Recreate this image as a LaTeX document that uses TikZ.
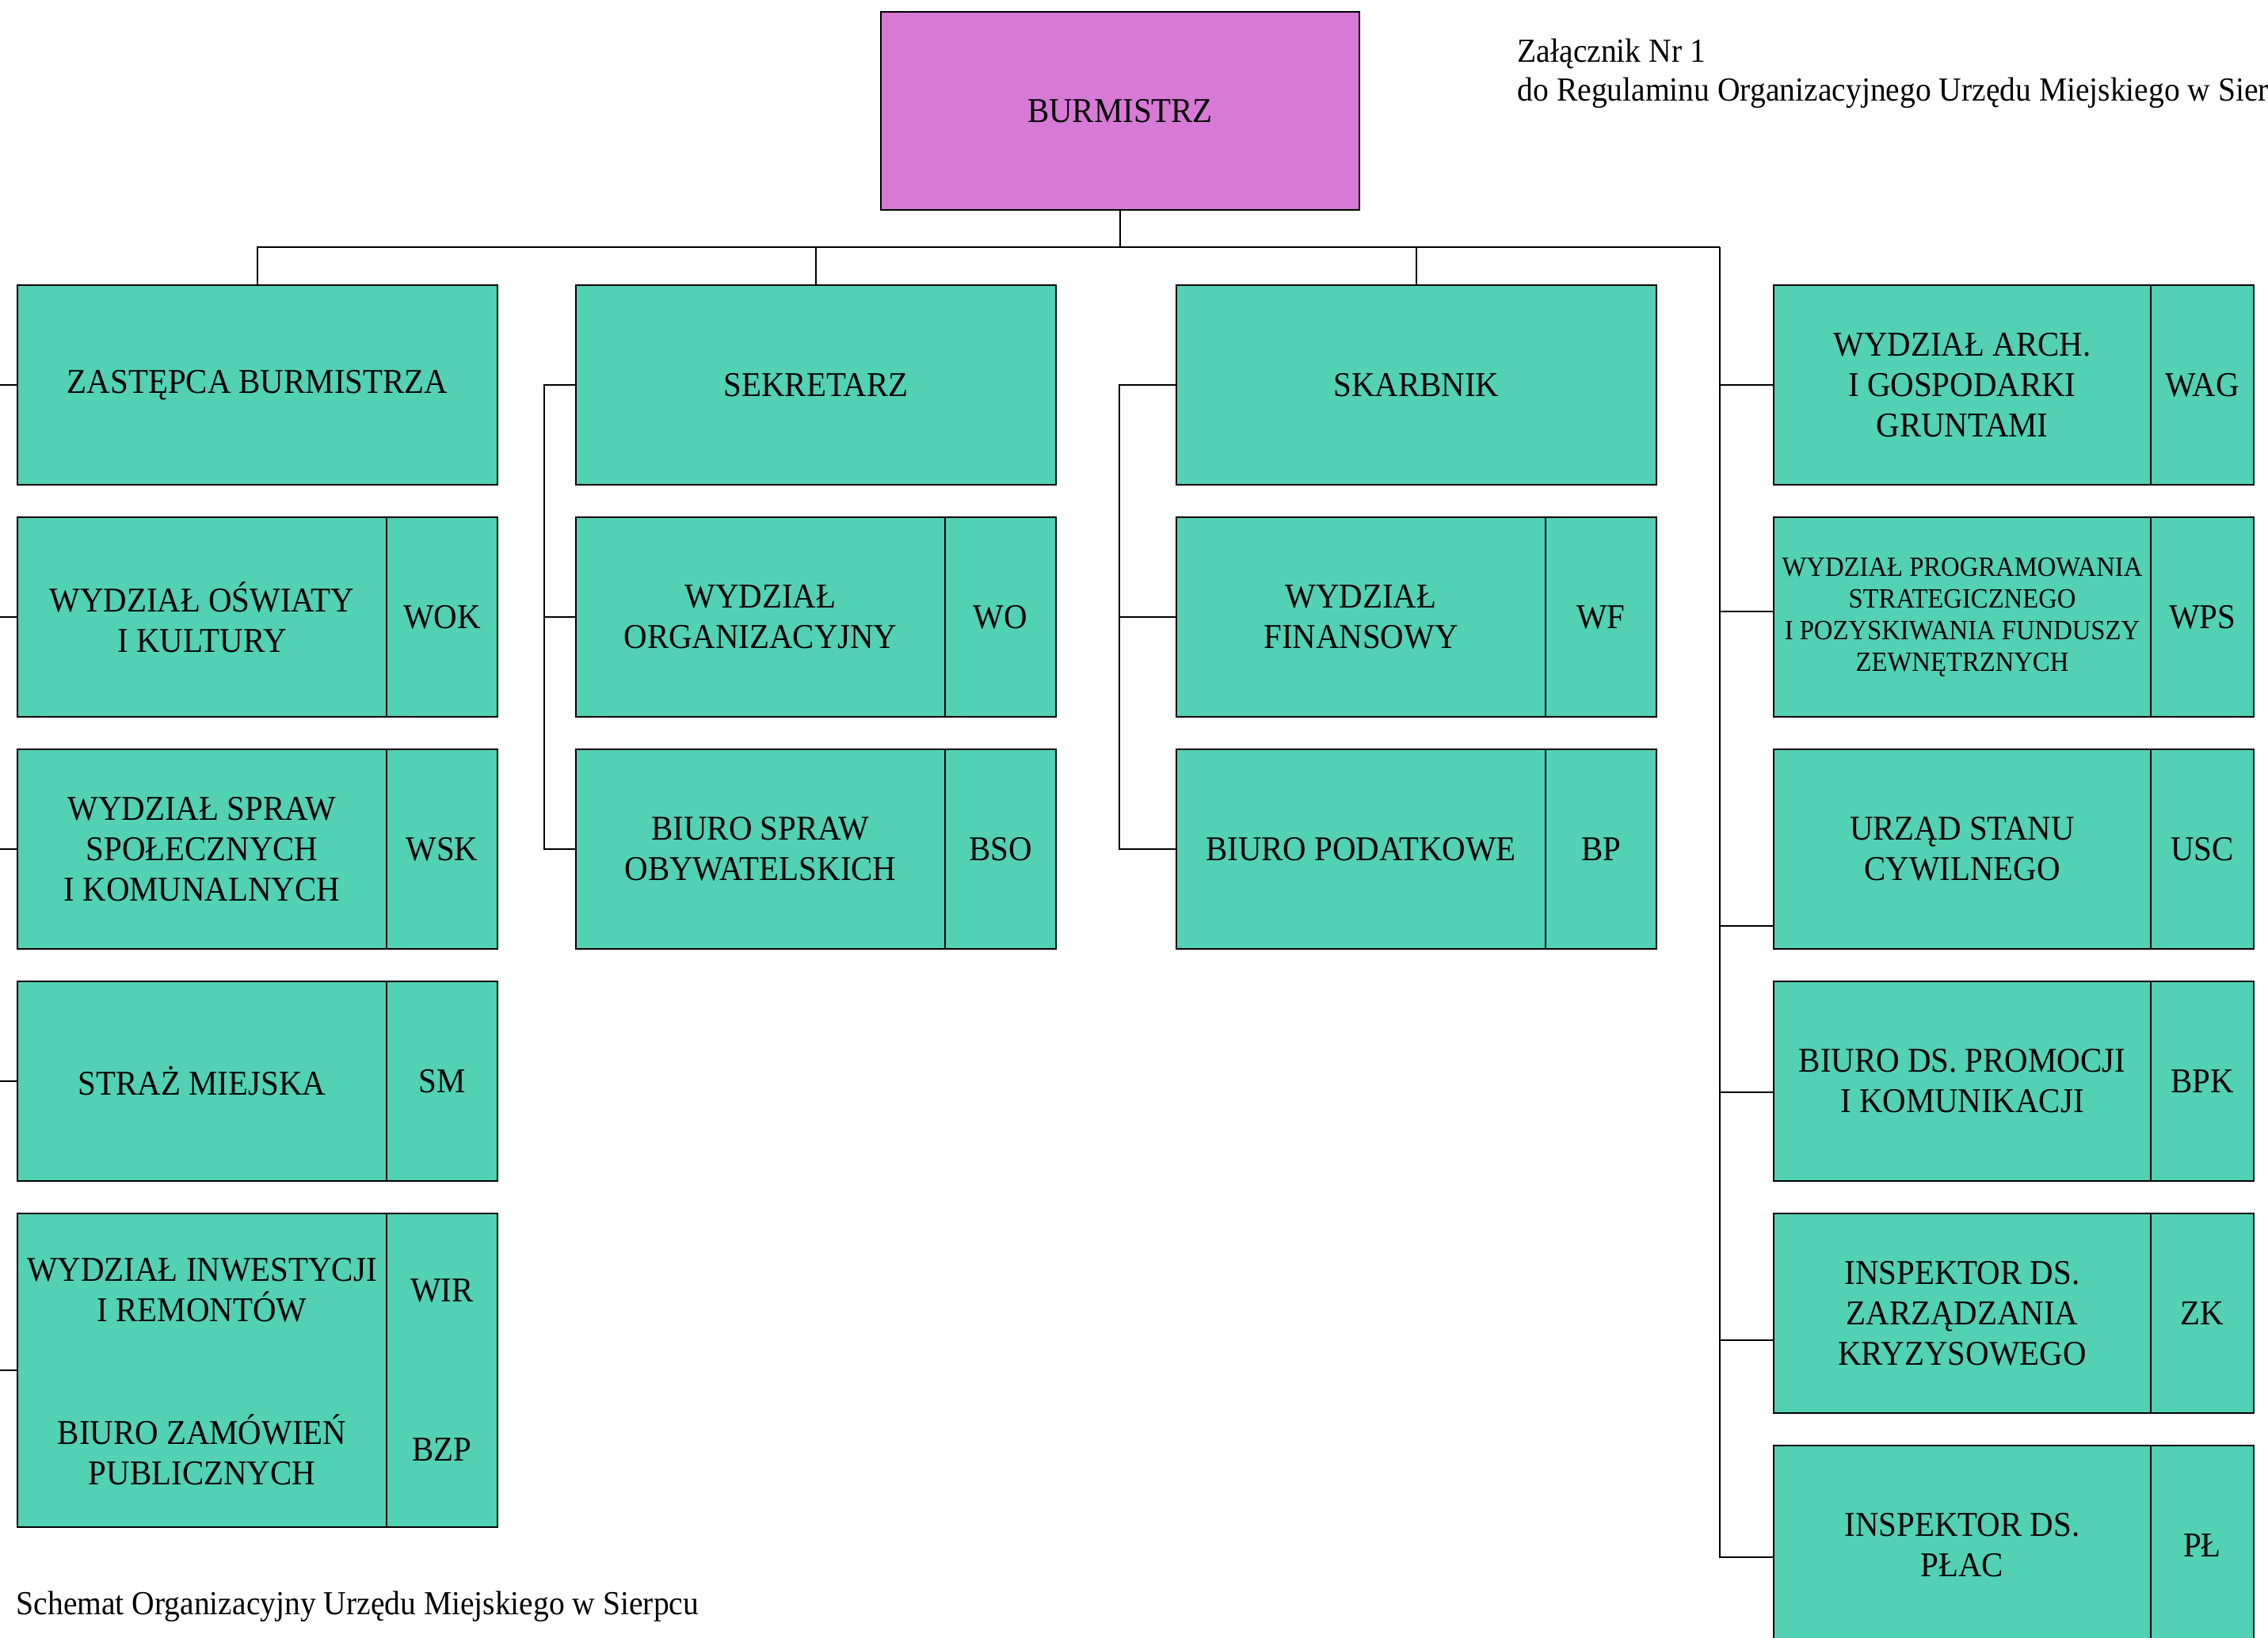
\documentclass[tikz,border=0pt]{standalone}
\usepackage{fontspec}
\setmainfont{Liberation Serif}[FakeStretch=0.93]
\usepackage{tikz}
\usetikzlibrary{positioning,calc}
\usepackage{xcolor}
\definecolor{unitgreen}{RGB}{82,209,180}
\definecolor{headpink}{RGB}{215,122,214}
\tikzset{
  unitbox/.style={draw, line width=0.8pt, fill=unitgreen, minimum width=4.66cm, minimum height=2.52cm, inner sep=1pt, outer sep=0pt, align=center, font=\fontsize{12.5}{14.5}\selectfont},
  widebox/.style={minimum width=6.06cm},
  headbox/.style={fill=headpink, minimum width=6.04cm, minimum height=2.50cm},
  abbrbox/.style={unitbox, minimum width=1.40cm},
  tallbox/.style={minimum height=3.96cm},
  rcol/.style={minimum width=4.76cm},
  rabbr/.style={minimum width=1.30cm},
  boxtext/.style={align=center, inner sep=0pt, font=\fontsize{12.5}{14.5}\selectfont},
  capt/.style={anchor=base west, inner sep=0pt, font=\fontsize{12.1}{14}\selectfont},
  link/.style={line width=0.8pt}
}
\begin{document}
\begin{tikzpicture}
\useasboundingbox (0,0) rectangle (28.63,-20.68);
\clip (0,0) rectangle (28.63,-20.68);
\node [unitbox, headbox] (burm) at (14.14,-1.40) {BURMISTRZ};
\node [capt] (zal) at (19.15,-0.79) {Załącznik Nr 1};
\node [capt] (zal2) at (19.15,-1.28) {do Regulaminu Organizacyjnego Urzędu Miejskiego w Sierpcu};
\node [capt] (schemat) at (0.20,-20.38) {Schemat Organizacyjny Urzędu Miejskiego w Sierpcu};

\node [unitbox, widebox, anchor=north west] (zast) at (0.22,-3.60) {ZASTĘPCA BURMISTRZA};
\node [unitbox, below=0.41cm of zast.south west, anchor=north west] (wok) {WYDZIAŁ OŚWIATY\\I KULTURY};
\node [abbrbox, right=0pt of wok] (wok-k) {WOK};
\node [unitbox, below=0.41cm of wok.south west, anchor=north west] (wsk) {WYDZIAŁ SPRAW\\SPOŁECZNYCH\\I KOMUNALNYCH};
\node [abbrbox, right=0pt of wsk] (wsk-k) {WSK};
\node [unitbox, below=0.41cm of wsk.south west, anchor=north west] (sm) {STRAŻ MIEJSKA};
\node [abbrbox, right=0pt of sm] (sm-k) {SM};
\node [unitbox, tallbox, below=0.41cm of sm.south west, anchor=north west] (wir) {};
\node [abbrbox, tallbox, right=0pt of wir] (wir-k) {};
\node [boxtext] (wir-t) at ($(wir.north)+(0,-0.97)$) {WYDZIAŁ INWESTYCJI\\I REMONTÓW};
\node [boxtext] (bzp-t) at ($(wir.north)+(0,-2.98)$) {BIURO ZAMÓWIEŃ\\PUBLICZNYCH};
\node [boxtext] (wir-a) at ($(wir-k.north)+(0,-0.97)$) {WIR};
\node [boxtext] (bzp-a) at ($(wir-k.north)+(0,-2.98)$) {BZP};

\node [unitbox, widebox, anchor=north west] (sekr) at (7.27,-3.60) {SEKRETARZ};
\node [unitbox, below=0.41cm of sekr.south west, anchor=north west] (wo) {WYDZIAŁ\\ORGANIZACYJNY};
\node [abbrbox, right=0pt of wo] (wo-k) {WO};
\node [unitbox, below=0.41cm of wo.south west, anchor=north west] (bso) {BIURO SPRAW\\OBYWATELSKICH};
\node [abbrbox, right=0pt of bso] (bso-k) {BSO};

\node [unitbox, widebox, anchor=north west] (skarb) at (14.85,-3.60) {SKARBNIK};
\node [unitbox, below=0.41cm of skarb.south west, anchor=north west] (wf) {WYDZIAŁ\\FINANSOWY};
\node [abbrbox, right=0pt of wf] (wf-k) {WF};
\node [unitbox, below=0.41cm of wf.south west, anchor=north west] (bp) {BIURO PODATKOWE};
\node [abbrbox, right=0pt of bp] (bp-k) {BP};

\node [unitbox, rcol, anchor=north west] (wag) at (22.39,-3.60) {WYDZIAŁ ARCH.\\I GOSPODARKI\\GRUNTAMI};
\node [abbrbox, rabbr, right=0pt of wag] (wag-k) {WAG};
\node [unitbox, rcol, below=0.41cm of wag.south west, anchor=north west, font=\fontsize{10}{11.4}\selectfont] (wps) {WYDZIAŁ PROGRAMOWANIA\\STRATEGICZNEGO\\I POZYSKIWANIA FUNDUSZY\\ZEWNĘTRZNYCH};
\node [abbrbox, rabbr, right=0pt of wps] (wps-k) {WPS};
\node [unitbox, rcol, below=0.41cm of wps.south west, anchor=north west] (usc) {URZĄD STANU\\CYWILNEGO};
\node [abbrbox, rabbr, right=0pt of usc] (usc-k) {USC};
\node [unitbox, rcol, below=0.41cm of usc.south west, anchor=north west] (bpk) {BIURO DS. PROMOCJI\\I KOMUNIKACJI};
\node [abbrbox, rabbr, right=0pt of bpk] (bpk-k) {BPK};
\node [unitbox, rcol, below=0.41cm of bpk.south west, anchor=north west] (zk) {INSPEKTOR DS.\\ZARZĄDZANIA\\KRYZYSOWEGO};
\node [abbrbox, rabbr, right=0pt of zk] (zk-k) {ZK};
\node [unitbox, rcol, below=0.41cm of zk.south west, anchor=north west] (pl) {INSPEKTOR DS.\\PŁAC};
\node [abbrbox, rabbr, right=0pt of pl] (pl-k) {PŁ};

\coordinate (rtop) at (21.71,-3.12);
\draw [link] (burm.south) -- (burm.south |- rtop);
\draw [link] (zast.north) |- (rtop);
\draw [link] (sekr.north) -- (sekr.north |- rtop);
\draw [link] (skarb.north) -- (skarb.north |- rtop);

\foreach \n in {zast,wok,wsk,sm,wir}
  \draw [link] (\n.west) -- ++(-0.5,0);

\coordinate (sbus) at ($(sekr.west)+(-0.40,0)$);
\draw [link] (sekr.west) -- (sbus) |- (bso.west);
\draw [link] (wo.west) -- (wo.west -| sbus);

\coordinate (fbus) at ($(skarb.west)+(-0.72,0)$);
\draw [link] (skarb.west) -- (fbus) |- (bp.west);
\draw [link] (wf.west) -- (wf.west -| fbus);

\coordinate (pl-in) at ($(pl.west)+(0,-0.15)$);
\draw [link] (rtop) |- (pl-in);
\draw [link] (wag.west) -- (wag.west -| rtop);
\draw [link] ($(wps.west)+(0,0.07)$) -- ++(-0.68,0);
\draw [link] ($(usc.south west)+(0,0.29)$) -- ++(-0.68,0);
\draw [link] ($(bpk.west)+(0,-0.14)$) -- ++(-0.68,0);
\draw [link] ($(zk.west)+(0,-0.34)$) -- ++(-0.68,0);
\end{tikzpicture}
\end{document}
